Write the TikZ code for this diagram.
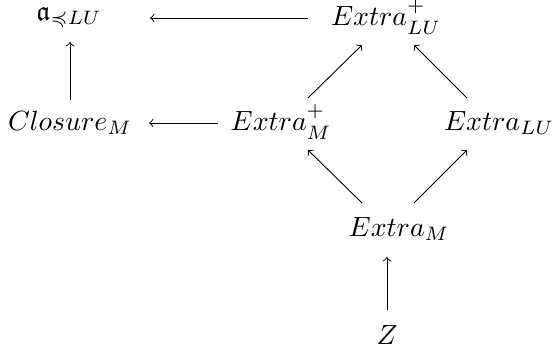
\documentclass[tikz,border=0pt]{standalone}
\usepackage{fix-cm}
\usepackage{amsmath,amssymb}
\newcommand{\supsub}[2]{^{\raisebox{1.2pt}{$\scriptstyle #1$}}_{\raisebox{-0.9pt}{$\scriptstyle #2$}}}
\begin{document}
\begin{tikzpicture}[x=0.385pt,y=-0.385pt,
  lbl/.style={inner sep=0pt, anchor=center, font=\fontsize{10.7}{13}\selectfont},
  arr/.style={->, >=to, line width=0.35pt}]
\useasboundingbox (0,0) rectangle (555,352);
\node[lbl] (a)    at (69,18)  {$\mathfrak{a}_{\preccurlyeq LU}$};
\node[lbl] (EpLU) at (386,17) {$Extra\supsub{+}{LU}$};
\node[lbl] (Cl)   at (70,123) {$Closure_M$};
\node[lbl] (EpM)  at (281,122) {$Extra\supsub{+}{M}$};
\node[lbl] (ELU)  at (499,123) {$Extra_{LU}$};
\node[lbl] (EM)   at (399,229) {$Extra_M$};
\node[lbl] (Z)    at (387,335) {$Z$};
\draw[arr] ([shift={(-78,1)}]EpLU.center) -- ([shift={(81,0)}]a.center);
\draw[arr] ([shift={(0,-23)}]Cl.center) -- ([shift={(1,24)}]a.center);
\draw[arr] ([shift={(-63,1)}]EpM.center) -- ([shift={(79,0)}]Cl.center);
\draw[arr] ([shift={(27,-24)}]EpM.center) -- ([shift={(-24,28)}]EpLU.center);
\draw[arr] ([shift={(-32,-25)}]ELU.center) -- ([shift={(28,28)}]EpLU.center);
\draw[arr] ([shift={(-37,-26)}]EM.center) -- ([shift={(27,28)}]EpM.center);
\draw[arr] ([shift={(15,-26)}]EM.center) -- ([shift={(-32,27)}]ELU.center);
\draw[arr] ([shift={(0,-25)}]Z.center) -- ([shift={(-12,28)}]EM.center);
\end{tikzpicture}
\end{document}
